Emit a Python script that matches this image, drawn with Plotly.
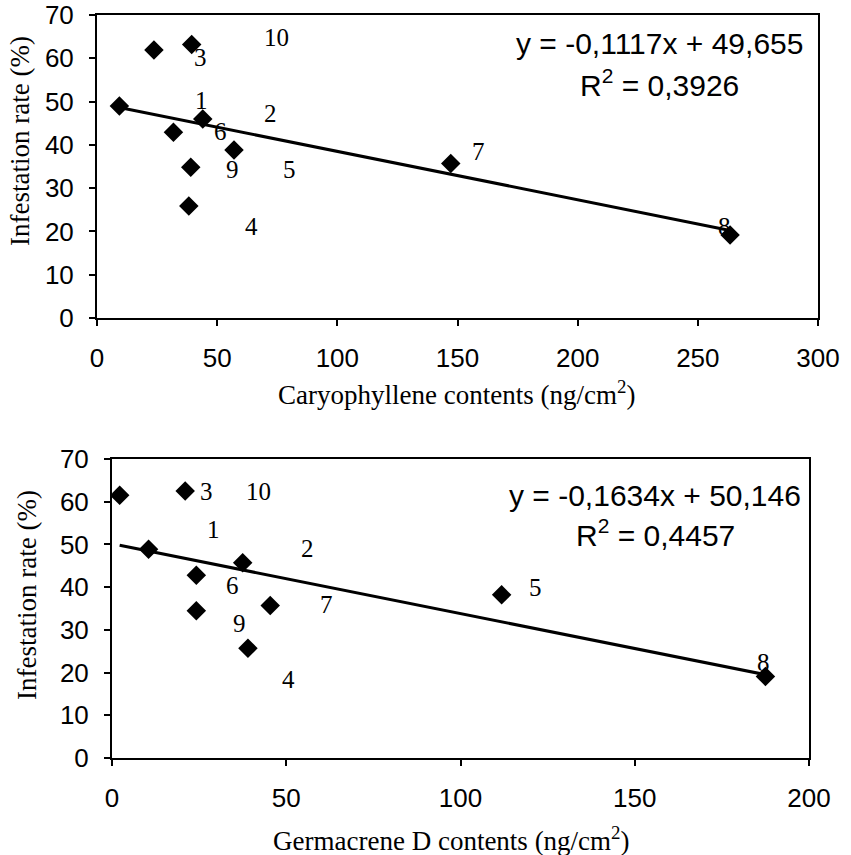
import plotly.graph_objects as go

W, H = 851, 855

# ---- Data: Caryophyllene (top) ----
cary_x = [9.3, 23.7, 39.4, 44.0, 31.8, 57.0, 39.0, 38.2, 147.2, 263.4]
cary_y = [49.0, 61.9, 63.2, 46.0, 42.9, 38.8, 34.8, 25.9, 35.7, 19.2]
cary_labels = ["10", "3", "1", "2", "6", "9", "5", "4", "7", "8"]
cary_label_x = [74.8, 43.1, 43.6, 72.0, 51.2, 56.5, 79.9, 64.1, 158.7, 261.3]
cary_label_y = [64.8, 60.2, 50.3, 47.3, 43.2, 34.4, 34.2, 21.1, 38.4, 21.1]
cary_slope, cary_intercept = -0.1117, 49.655
cary_eq = "y = -0,1117x + 49,655"
cary_r2_text = "R<sup>2</sup> = 0,3926"

# ---- Data: Germacrene D (bottom) ----
germ_x = [2.2, 21.0, 10.5, 37.5, 24.2, 24.2, 45.4, 39.0, 111.8, 187.5]
germ_y = [61.5, 62.5, 48.9, 45.7, 42.8, 34.5, 35.7, 25.7, 38.2, 19.1]
germ_labels = ["3", "10", "1", "2", "6", "7", "9", "4", "5", "8"]
germ_label_x = [27.2, 42.0, 29.1, 56.1, 34.7, 61.5, 36.5, 50.6, 121.4, 186.9]
germ_label_y = [62.3, 62.4, 53.6, 49.1, 40.3, 35.9, 31.4, 18.3, 40.0, 22.4]
germ_slope, germ_intercept = -0.1634, 50.146
germ_eq = "y = -0,1634x + 50,146"
germ_r2_text = "R<sup>2</sup> = 0,4457"

x_titles = ["Caryophyllene contents (ng/cm<sup>2</sup>)", "Germacrene D contents (ng/cm<sup>2</sup>)"]
y_title = "Infestation rate (%)"

SERIF = "Liberation Serif"
SANS = "Liberation Sans"

def px(x):
    return x / W

def py(y):
    return 1 - y / H

fig = go.Figure()

def add_panel(xs, ys, slope, intercept, xa, ya):
    fig.add_trace(go.Scatter(
        x=xs, y=ys, mode="markers", xaxis=xa, yaxis=ya,
        marker=dict(symbol="diamond", size=15, color="black"),
        showlegend=False, hoverinfo="skip"))
    x0, x1 = min(xs), max(xs)
    fig.add_trace(go.Scatter(
        x=[x0, x1], y=[slope * x0 + intercept, slope * x1 + intercept],
        mode="lines", xaxis=xa, yaxis=ya,
        line=dict(color="black", width=3),
        showlegend=False, hoverinfo="skip"))

add_panel(cary_x, cary_y, cary_slope, cary_intercept, "x", "y")
add_panel(germ_x, germ_y, germ_slope, germ_intercept, "x2", "y2")

def ann(x, y, text, font, xref="paper", yref="paper", **kw):
    return dict(x=x, y=y, xref=xref, yref=yref, text=text, showarrow=False,
                xanchor="center", yanchor="middle", font=font, **kw)

annotations = []
lfont = dict(family=SERIF, size=25, color="black")
for lab, lx, ly in zip(cary_labels, cary_label_x, cary_label_y):
    annotations.append(ann(lx, ly, lab, lfont, "x", "y"))
for lab, lx, ly in zip(germ_labels, germ_label_x, germ_label_y):
    annotations.append(ann(lx, ly, lab, lfont, "x2", "y2"))

eqfont = dict(family=SANS, size=30, color="black")
annotations += [
    ann(px(659), py(44), cary_eq, eqfont),
    ann(px(659), py(83), cary_r2_text, eqfont),
    ann(px(655), py(495), germ_eq, eqfont),
    ann(px(655), py(533), germ_r2_text, eqfont),
]

tfont = dict(family=SERIF, size=27, color="black")
annotations += [
    ann(px(456), py(393), x_titles[0], tfont),
    ann(px(452), py(839), x_titles[1], tfont),
    ann(px(20), py(141), y_title, tfont, textangle=-90),
    ann(px(27), py(595), y_title, tfont, textangle=-90),
]

axis_common = dict(showline=True, linecolor="black", linewidth=2, mirror=True,
                   showgrid=False, zeroline=False, ticks="outside", ticklen=6,
                   tickcolor="black", tickwidth=1.5, automargin=False,
                   ticklabelstandoff=10,
                   tickfont=dict(family=SANS, size=26, color="black"))

fig.update_layout(
    width=W, height=H, margin=dict(l=0, r=0, t=0, b=0, autoexpand=False),
    paper_bgcolor="white", plot_bgcolor="white",
    xaxis=dict(domain=[px(97), px(818)], range=[0, 300], dtick=50, anchor="y", **axis_common),
    yaxis=dict(domain=[py(318), py(15)], range=[0, 70], dtick=10, anchor="x", **axis_common),
    xaxis2=dict(domain=[px(112), px(809)], range=[0, 200], dtick=50, anchor="y2", **axis_common),
    yaxis2=dict(domain=[py(758), py(459)], range=[0, 70], dtick=10, anchor="x2", **axis_common),
    annotations=annotations,
)

fig.write_html("out.html")
